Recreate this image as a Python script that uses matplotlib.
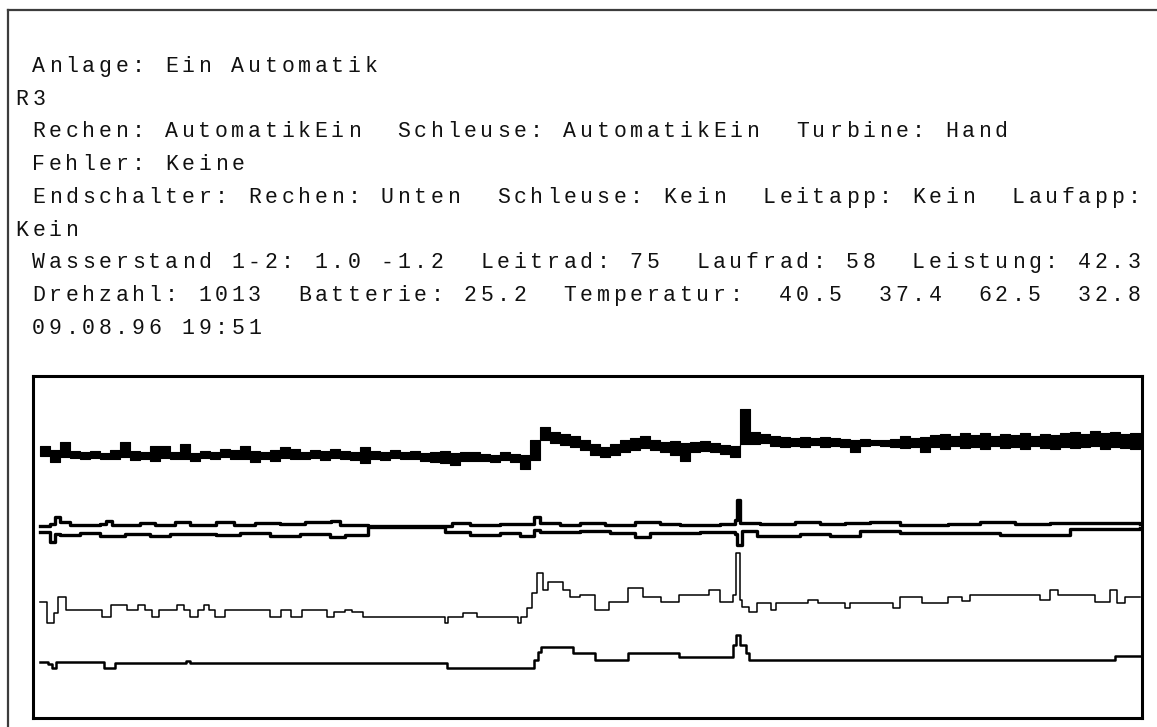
import matplotlib
matplotlib.use("Agg")
import matplotlib.pyplot as plt
from matplotlib.lines import Line2D


# ---------------------status text-----------------------
text_lines = [
    " Anlage: Ein Automatik",
    "R3",
    " Rechen: AutomatikEin  Schleuse: AutomatikEin  Turbine: Hand",
    " Fehler: Keine",
    " Endschalter: Rechen: Unten  Schleuse: Kein  Leitapp: Kein  Laufapp:",
    "Kein",
    " Wasserstand 1-2: 1.0 -1.2  Leitrad: 75  Laufrad: 58  Leistung: 42.3",
    " Drehzahl: 1013  Batterie: 25.2  Temperatur:  40.5  37.4  62.5  32.8",
    " 09.08.96 19:51",
]

# ---------------------traces (sample index, level)-----------------------
# top trace: noisy band, one min/max pair per sample
band_t = list(range(111))
band_hi = [272, 268, 276, 267, 266, 267, 265, 268, 276, 267, 266, 272, 272, 266, 274, 265,
           267, 266, 269, 268, 272, 267, 266, 268, 271, 269, 266, 268, 267, 269, 267, 266,
           271, 267, 266, 268, 266, 267, 265, 266, 267, 265, 266, 266, 264, 263, 266, 264,
           263, 278, 291, 286, 284, 282, 278, 274, 271, 274, 278, 280, 282, 278, 276, 277,
           275, 276, 277, 275, 273, 272, 309, 286, 284, 282, 281, 280, 281, 280, 281, 280,
           279, 278, 279, 278, 278, 279, 282, 280, 281, 283, 284, 282, 285, 283, 285, 282,
           284, 283, 285, 282, 284, 283, 285, 286, 284, 287, 285, 286, 284, 285, 283]
band_lo = [262, 256, 261, 260, 259, 260, 259, 259, 261, 258, 259, 257, 260, 259, 259, 257,
           260, 259, 261, 259, 259, 256, 259, 257, 260, 259, 259, 260, 258, 260, 259, 258,
           255, 259, 258, 260, 259, 259, 257, 256, 255, 253, 257, 257, 257, 256, 258, 256,
           249, 258, 278, 275, 273, 271, 268, 263, 261, 263, 266, 268, 270, 268, 266, 263,
           257, 266, 267, 266, 264, 261, 274, 274, 275, 272, 271, 272, 271, 273, 271, 272,
           271, 266, 272, 273, 272, 271, 270, 271, 266, 271, 269, 272, 270, 271, 269, 272,
           270, 271, 269, 272, 270, 269, 271, 270, 271, 272, 269, 271, 270, 269, 271]

# second trace: two close lines
upper_t = [0.0, 1.0, 1.5, 2.0, 3.0, 6.0, 6.6, 7.2, 10.0, 11.5, 13.5, 15.0, 17.6, 19.4, 21.5,
           24.0, 26.5, 29.1, 30.0, 32.8, 41.2, 43.0, 46.0, 49.4, 50.0, 52.0, 54.0, 56.5,
           59.5, 62.0, 64.0, 68.0, 69.5, 69.7, 70.0, 72.0, 75.5, 78.0, 80.5, 83.0, 86.0,
           90.8, 94.0, 97.5, 101.0, 106.0, 110.0]
upper_v = [192, 194, 201, 196, 193, 194, 197, 193, 195, 193, 196, 193, 196, 193, 195,
           194, 196, 197, 193, 192, 195, 193, 194, 201, 195, 193, 195, 193,
           196, 194, 193, 194, 198, 218, 195, 194, 196, 194, 195, 196, 193,
           194, 196, 194, 195, 195, 194]
lower_t = [0.0, 1.0, 1.5, 2.0, 4.0, 6.0, 8.5, 11.0, 13.0, 16.0, 17.6, 20.0, 23.0, 26.0,
           29.0, 30.5, 32.8, 40.5, 43.0, 46.0, 48.0, 49.4, 50.0, 54.0, 57.0, 59.5, 61.0,
           66.0, 69.5, 69.7, 70.2, 71.7, 76.0, 79.0, 82.0, 86.0, 90.8, 96.0, 103.0, 110.0]
lower_v = [186, 176, 184, 183, 185, 182, 184, 182, 184, 184, 183, 185, 182, 184,
           181, 183, 191, 186, 183, 185, 182, 188, 186, 187, 185, 181, 185,
           186, 184, 173, 187, 182, 184, 182, 187, 185, 185, 183, 189, 190]

# third trace: thin step line
thin_t = [0.0, 0.7, 1.4, 1.8, 2.6, 6.2, 7.1, 8.7, 9.8, 10.5, 11.2, 11.9, 13.7, 14.4, 15.0,
          15.8, 16.4, 16.9, 17.5, 18.5, 23.0, 24.1, 25.1, 26.2, 28.7, 29.4, 30.5, 31.2,
          32.3, 40.5, 40.8, 42.3, 43.7, 47.8, 48.1, 48.7, 49.2, 49.7, 50.3, 50.8, 52.3,
          53.0, 54.0, 55.5, 56.9, 58.8, 60.3, 62.1, 63.9, 66.9, 68.0, 69.3, 69.6, 70.0,
          70.2, 70.9, 71.7, 73.1, 73.6, 76.8, 77.8, 80.5, 81.0, 85.3, 86.0, 88.2, 90.8,
          92.2, 93.0, 100.0, 101.0, 101.8, 105.5, 107.0, 107.7, 108.5, 110.0]
thin_v = [116, 95, 105, 121, 108, 101, 113, 108, 113, 108, 101, 108, 113, 108, 101,
          108, 113, 108, 101, 108, 101, 108, 101, 108, 101, 106, 108, 106,
          101, 95, 101, 105, 101, 95, 101, 110, 125, 145, 128, 136, 128,
          121, 123, 108, 116, 130, 121, 116, 123, 128, 116, 123, 165, 118,
          111, 106, 115, 108, 115, 118, 115, 110, 115, 110, 121, 115, 121,
          117, 123, 118, 128, 123, 116, 128, 115, 121, 121]

# bottom trace
low_t = [0.0, 0.8, 1.2, 1.6, 6.4, 7.5, 14.6, 15.0, 40.7, 49.4, 49.8, 50.1, 53.3, 55.5,
         58.8, 63.9, 69.3, 69.6, 70.0, 70.6, 70.9, 107.5, 110.0]
low_v = [56, 54, 50, 56, 50, 55, 57, 55, 50, 58, 66, 71, 65, 58,
         65, 61, 73, 83, 73, 65, 58, 62, 62]


W, H = 1157, 727
fig = plt.figure(figsize=(W / 100, H / 100), dpi=100)
fig.patch.set_facecolor("white")

# outer window frame
fig.add_artist(Line2D([8 / W, 8 / W], [0, 1 - 10 / H], transform=fig.transFigure,
                      color="#3c3c3c", lw=1.6))
fig.add_artist(Line2D([8 / W, 1], [1 - 10 / H, 1 - 10 / H], transform=fig.transFigure,
                      color="#3c3c3c", lw=1.6))

# status text, fixed pitch
pitch = 16.6
for k, line in enumerate(text_lines):
    y = 1 - (72 + 32.7 * k) / H
    for i, ch in enumerate(line):
        if ch == " ":
            continue
        fig.text((22 + pitch * i) / W, y, ch, ha="center", va="baseline",
                 family="Liberation Mono", fontsize=15.5, color="#111111")

ax = fig.add_axes([33 / W, 1 - 718 / H, (1142 - 33) / W, (718 - 376) / H])
ax.fill_between(band_t, band_lo, band_hi, step="post", color="black", lw=0.8)
ax.step(upper_t, upper_v, where="post", color="black", lw=2.4)
ax.step(lower_t, lower_v, where="post", color="black", lw=2.4)
ax.step(thin_t, thin_v, where="post", color="black", lw=1.1)
ax.step(low_t, low_v, where="post", color="black", lw=1.8)

ax.set_xlim(-0.7, 110.2)
ax.set_ylim(0, 342)
ax.set_xticks([])
ax.set_yticks([])
for s in ax.spines.values():
    s.set_linewidth(2.2)
    s.set_color("black")

plt.savefig("out.png", dpi=100)
